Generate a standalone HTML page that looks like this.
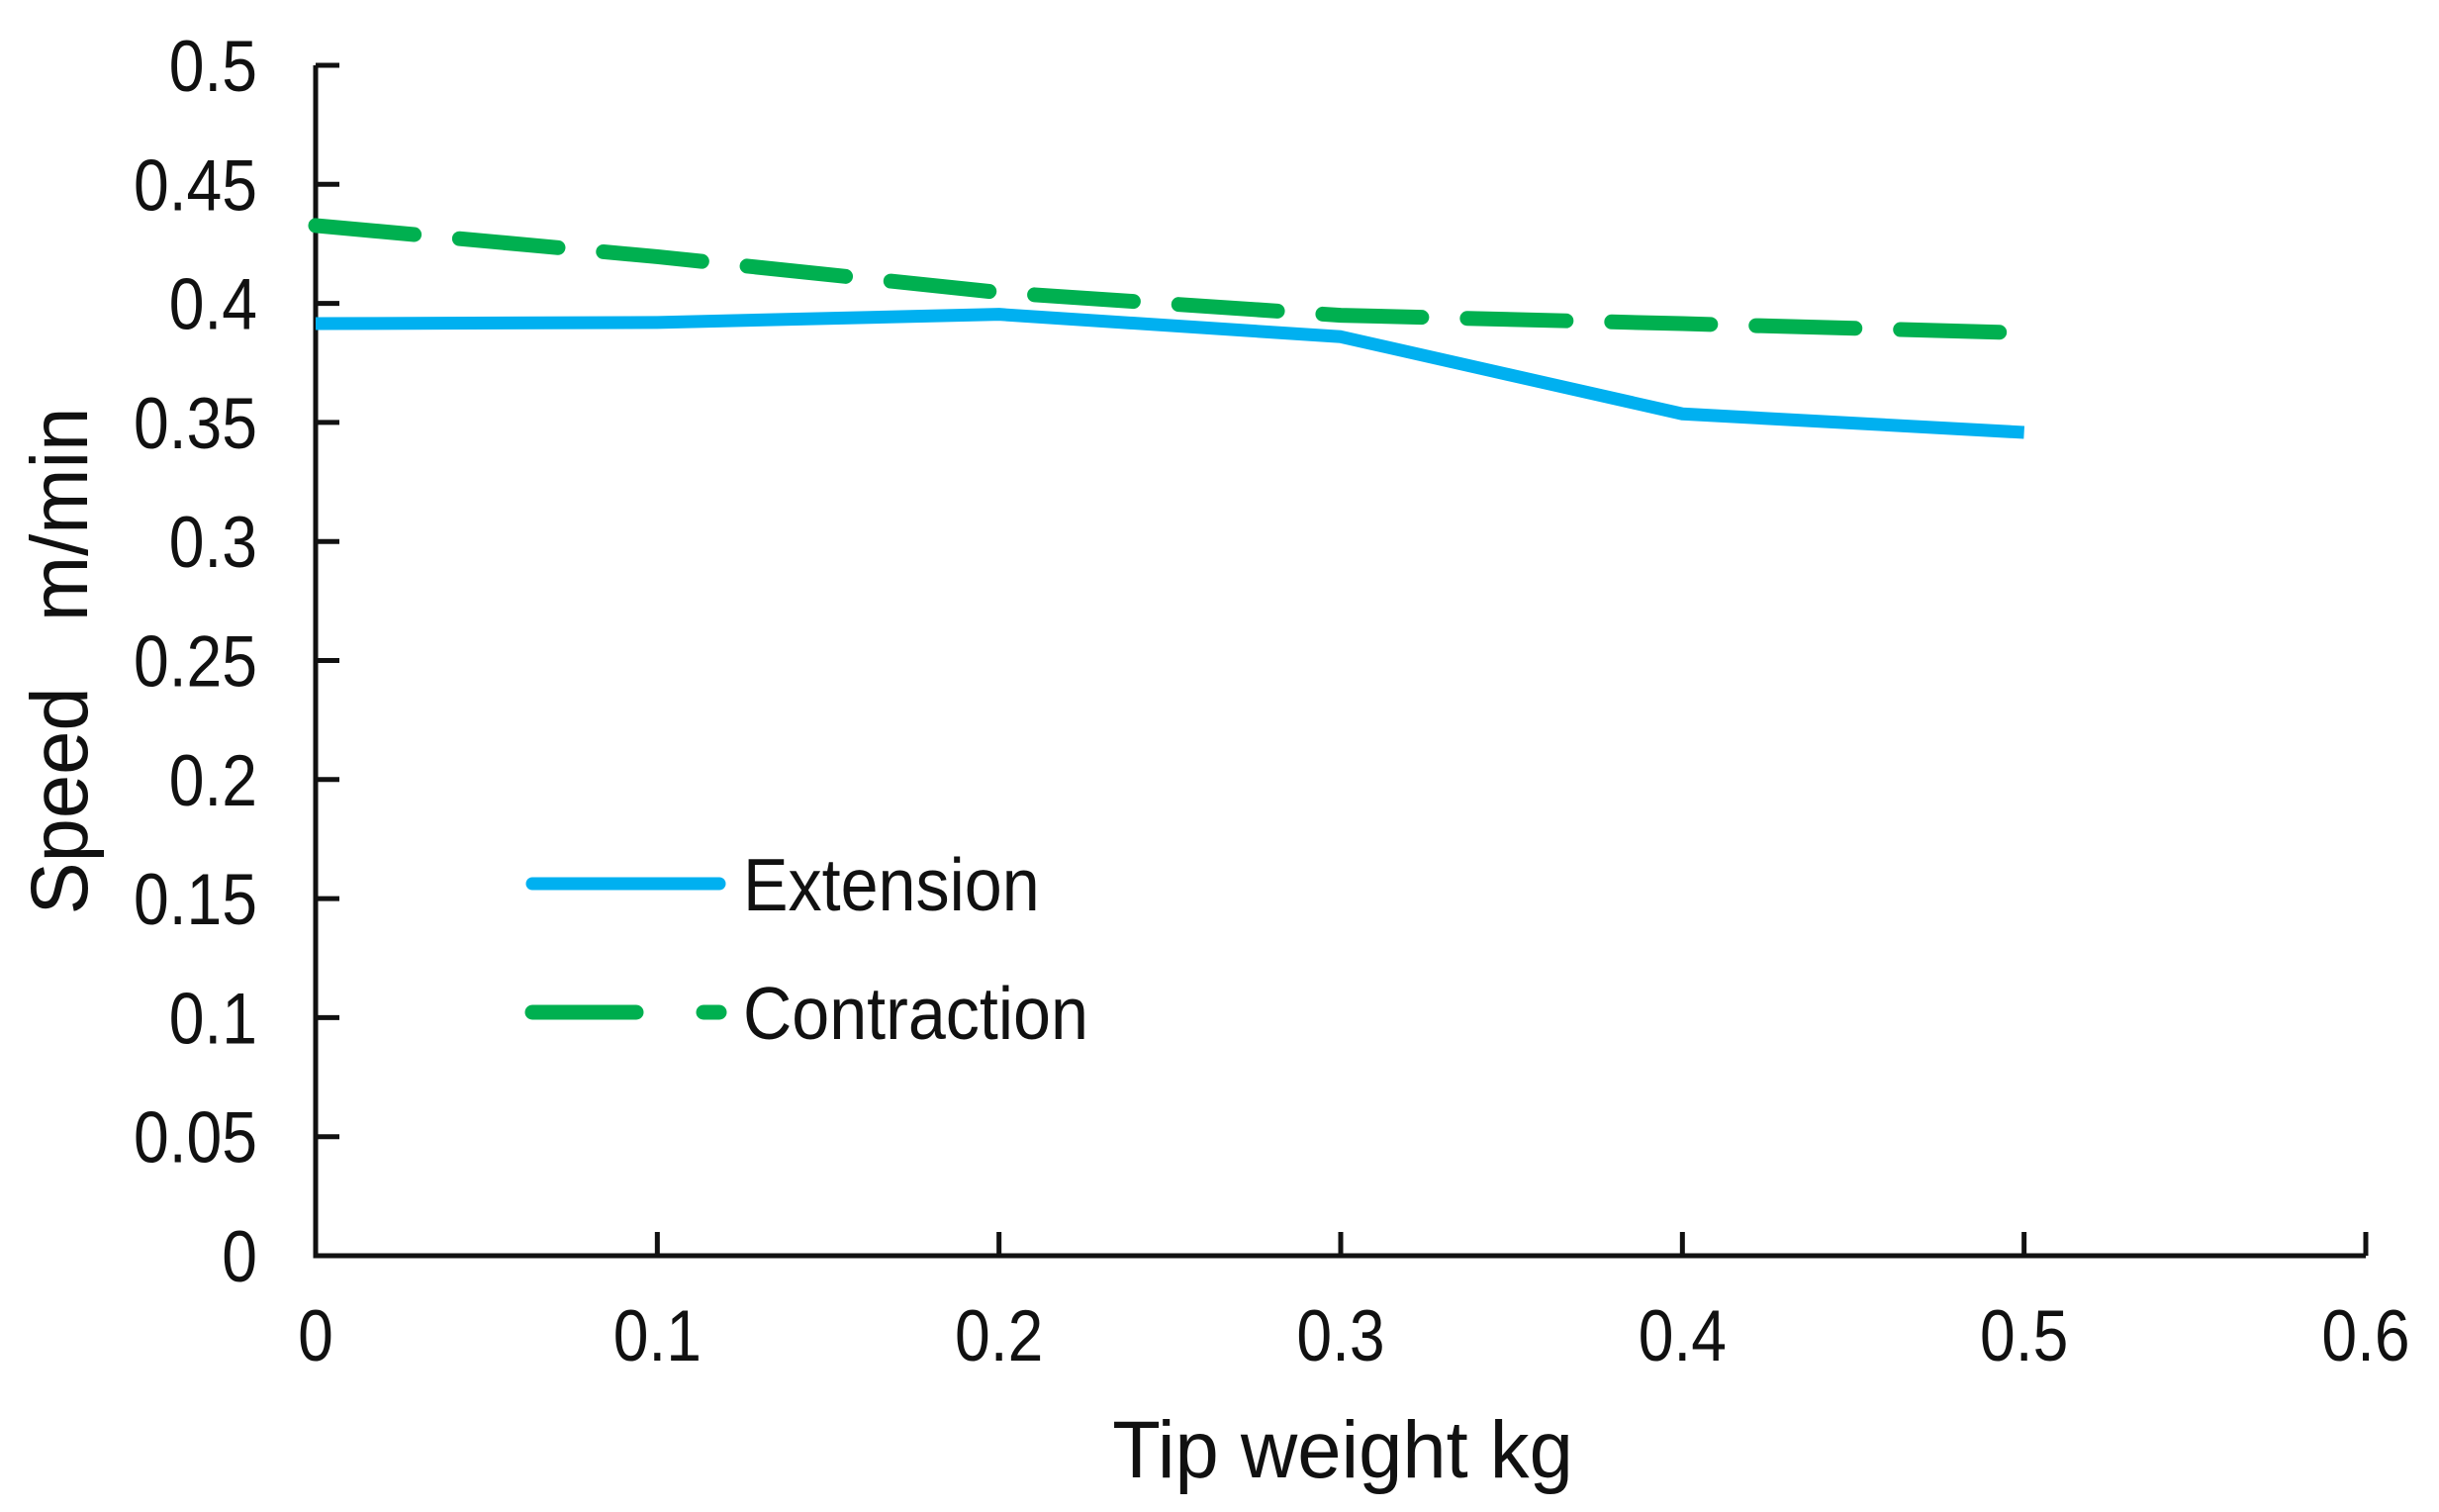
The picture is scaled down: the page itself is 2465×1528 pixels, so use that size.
<!DOCTYPE html>
<html><head><meta charset="utf-8"><style>
html,body{margin:0;padding:0;background:#fff;}
svg{display:block;font-family:"Liberation Sans",Arial,sans-serif;}
</style></head><body>
<svg id="chart" width="2465" height="1528" viewBox="0 0 2465 1528" xmlns="http://www.w3.org/2000/svg">
<g id="axes"></g>
<g id="series"></g>
<text transform="translate(1357,1493) scale(0.97,1)" font-size="82" text-anchor="middle" fill="#111">Tip weight kg</text>
<text transform="translate(88,668) rotate(-90) scale(0.97,1)" font-size="82" text-anchor="middle" fill="#111" xml:space="preserve">Speed   m/min</text>
<g>
<line x1="538" y1="893" x2="727" y2="893" stroke="#00B0F0" stroke-width="13" stroke-linecap="round"/>
<text transform="translate(751,920) scale(0.91,1)" font-size="75" fill="#111">Extension</text>
<line x1="538" y1="1023" x2="643" y2="1023" stroke="#00B050" stroke-width="15" stroke-linecap="round"/>
<line x1="711" y1="1023" x2="727" y2="1023" stroke="#00B050" stroke-width="15" stroke-linecap="round"/>
<text transform="translate(751,1050) scale(0.91,1)" font-size="75" fill="#111">Contraction</text>
</g>
</svg>
<script>
const xValues = [0, 0.1, 0.2, 0.3, 0.4, 0.5];
const extension = [0.3915, 0.392, 0.3954, 0.386, 0.3536, 0.3458];
const contraction = [0.4327, 0.4196, 0.4046, 0.395, 0.3915, 0.3876];
const xTicks = [0, 0.1, 0.2, 0.3, 0.4, 0.5, 0.6];
const xTickLabels = ["0","0.1","0.2","0.3","0.4","0.5","0.6"];
const yTicks = [0,0.05,0.1,0.15,0.2,0.25,0.3,0.35,0.4,0.45,0.5];
const yTickLabels = ["0","0.05","0.1","0.15","0.2","0.25","0.3","0.35","0.4","0.45","0.5"];

const X0=319, X1=2391, Y0=1269, Y1=66;
function sx(v){return X0+(v-0)/(0.6)*(X1-X0);}
function sy(v){return Y0-(v/0.5)*(Y0-Y1);}
const NS="http://www.w3.org/2000/svg";
const axes=document.getElementById('axes');
const series=document.getElementById('series');
function mk(tag,attrs,parent){const e=document.createElementNS(NS,tag);for(const k in attrs)e.setAttribute(k,attrs[k]);parent.appendChild(e);return e;}

const ya=mk('line',{x1:X0,y1:Y1,x2:X0,y2:Y0+2.5,stroke:'#111','stroke-width':5},axes);


const xa=mk('line',{x1:X0-2.5,y1:Y0,x2:X1,y2:Y0,stroke:'#111','stroke-width':5},axes);



yTicks.forEach((v,i)=>{
  const t=mk('line',{x1:X0,y1:sy(v),x2:X0+24,y2:sy(v),stroke:'#111','stroke-width':5},axes);
  
  
  const l=mk('text',{transform:'translate(260,'+(sy(v)+26)+') scale(0.88,1)','font-size':73,'text-anchor':'end',fill:'#111'},axes);
  l.textContent=yTickLabels[i];
  
  
});
xTicks.forEach((v,i)=>{
  if(i>0){
    const t=mk('line',{x1:sx(v),y1:Y0,x2:sx(v),y2:Y0-24,stroke:'#111','stroke-width':5},axes);
    
    
  }
  const l=mk('text',{transform:'translate('+sx(v)+',1375) scale(0.88,1)','font-size':73,'text-anchor':'middle',fill:'#111'},axes);
  l.textContent=xTickLabels[i];
  
  
});

function pts(arr){return xValues.map((x,i)=>sx(x)+','+sy(arr[i])).join(' ');}
const ext=mk('polyline',{points:pts(extension),fill:'none',stroke:'#00B0F0','stroke-width':13,'stroke-linejoin':'round'},series);


const con=mk('polyline',{points:pts(contraction),fill:'none',stroke:'#00B050','stroke-width':15,'stroke-dasharray':'100 46','stroke-linecap':'round'},series);


</script>
</body></html>
